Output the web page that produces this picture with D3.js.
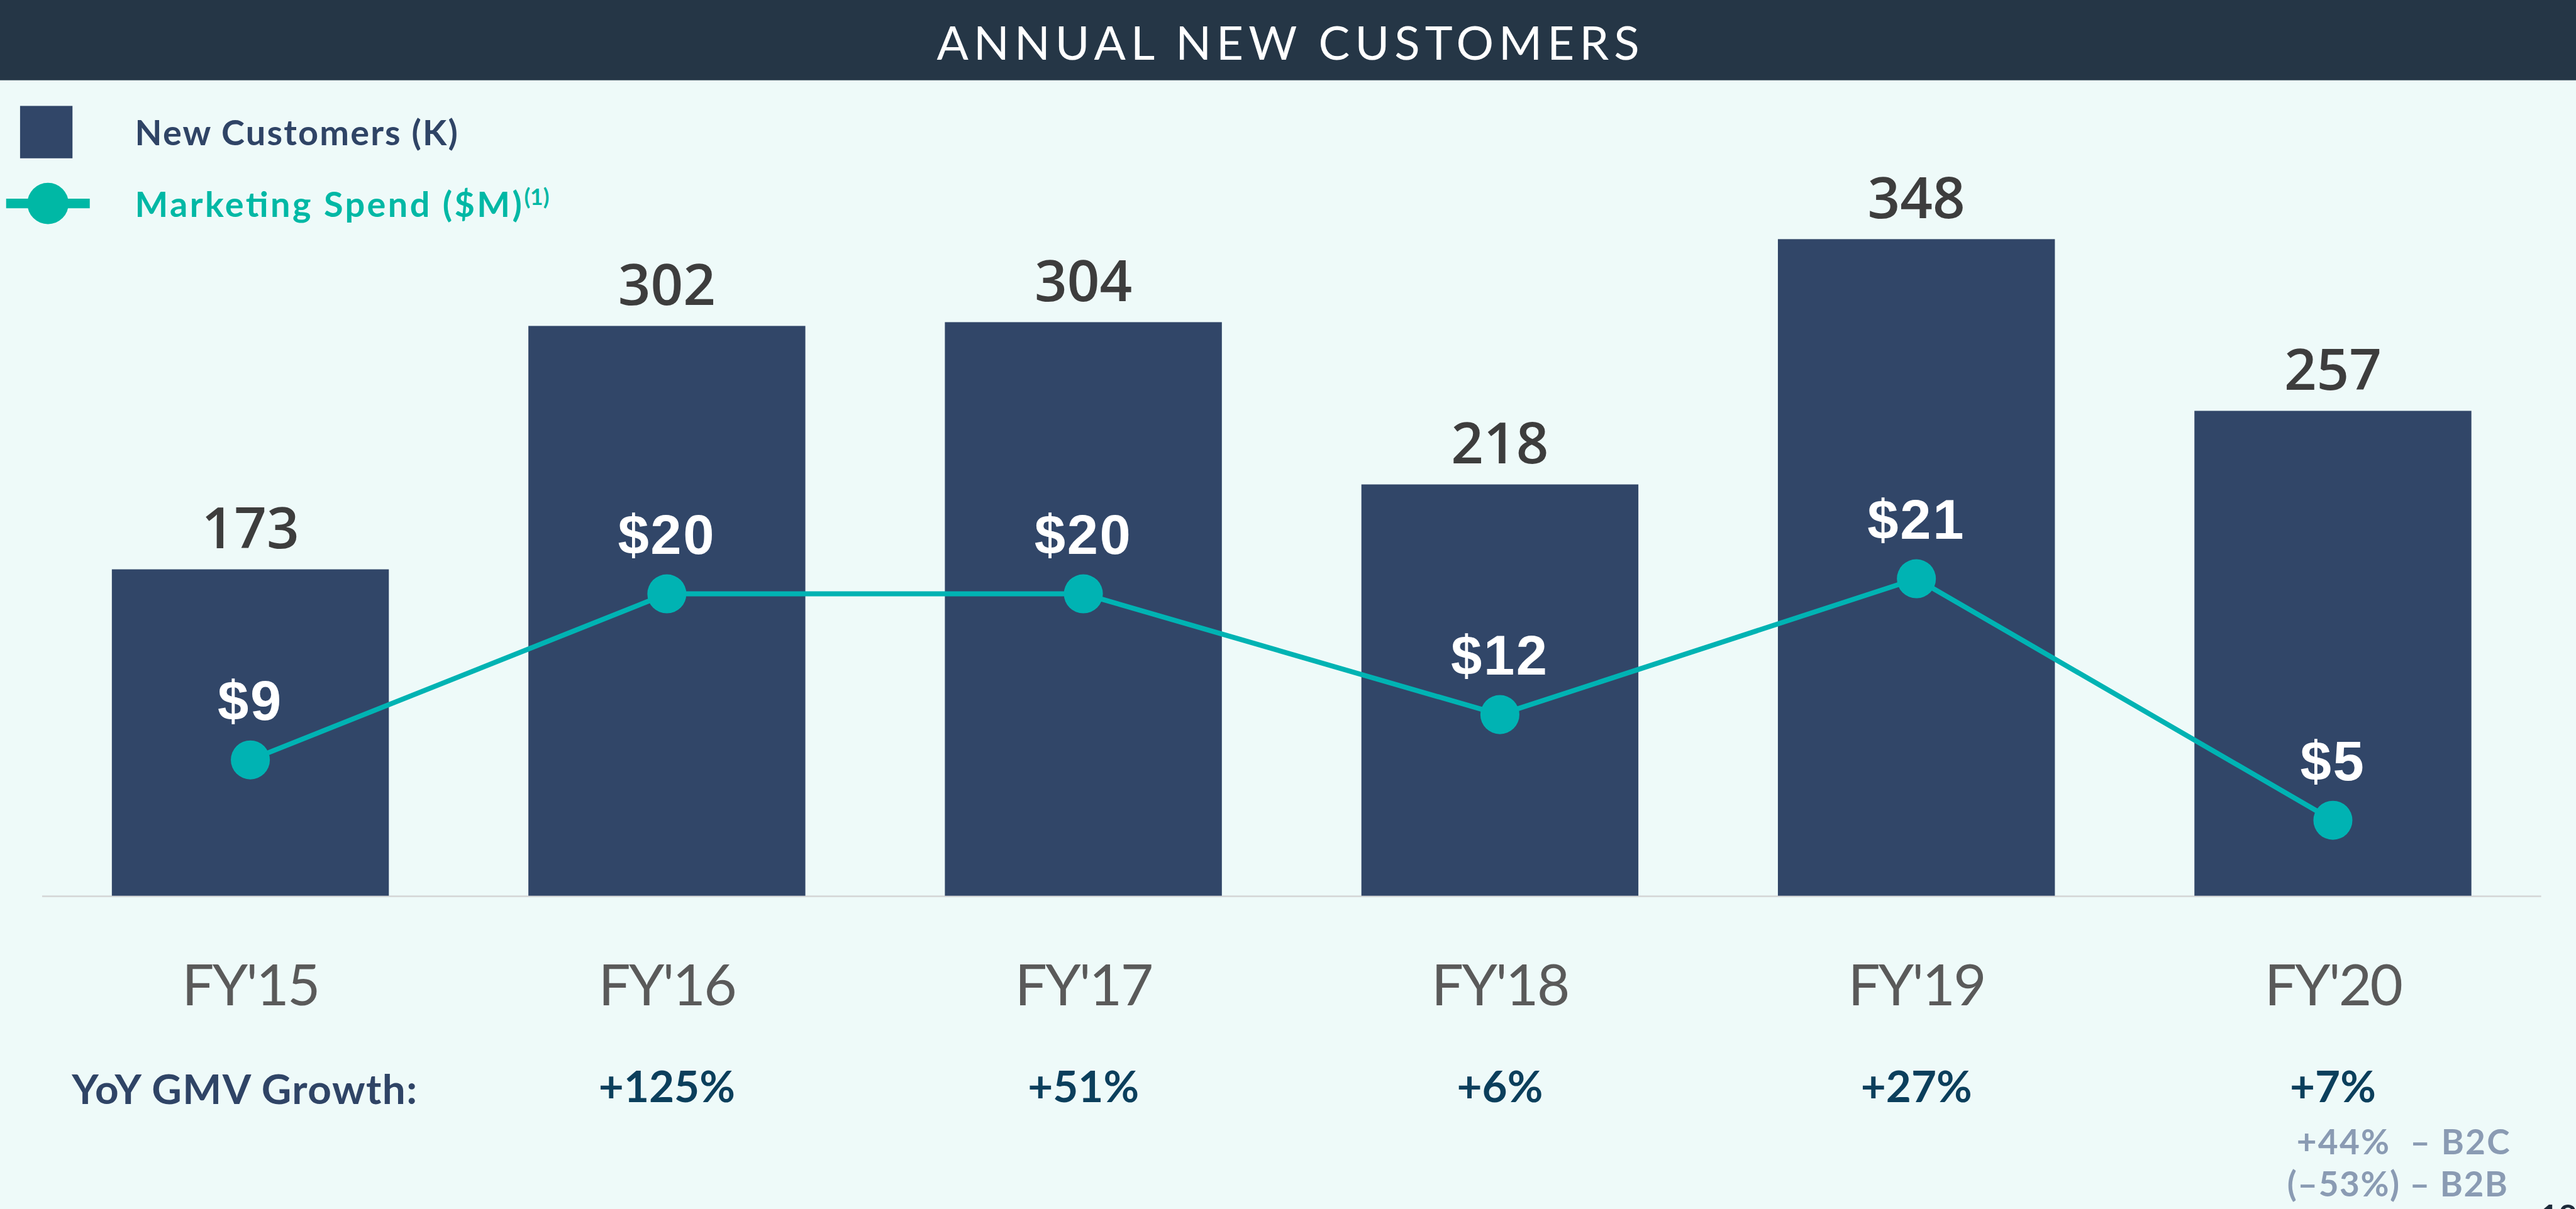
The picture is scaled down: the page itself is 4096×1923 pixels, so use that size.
<!DOCTYPE html>
<html>
<head>
<meta charset="utf-8">
<script src="https://cdn.jsdelivr.net/npm/d3@7"></script>
<style>
  html, body { margin: 0; padding: 0; overflow: hidden; background: #eefaf9; }
  svg { display: block; }
</style>
</head>
<body>
<svg id="chart"></svg>
<script>
// Fiscal years on the x axis
const categories = ["FY'15", "FY'16", "FY'17", "FY'18", "FY'19", "FY'20"];
// New customers, thousands
const newCustomers = [173, 302, 304, 218, 348, 257];
// Marketing spend, $M
const marketingSpend = [9, 20, 20, 12, 21, 5];
// Year-over-year GMV growth shown under each year
const gmvGrowth = [null, "+125%", "+51%", "+6%", "+27%", "+7%"];
// FY'20 GMV split
const gmvSplit = ["+44%  \u2013 B2C", "(\u201353%) \u2013 B2B"];
const titleText = "ANNUAL NEW CUSTOMERS";
const legendLabels = ["New Customers (K)", "Marketing Spend ($M)"];

const W = 4620, H = 2169;
const svg = d3.select("#chart")
  .attr("width", 4096).attr("height", 1923)
  .attr("viewBox", `0 0 ${W} ${H}`);

const C = {
  bg: "#eefaf9", header: "#253646", bar: "#314668", line: "#00b3b3",
  legendTeal: "#00b8a5", navy: "#2f4466", valueGrey: "#3d3d3d",
  axisGrey: "#5a5a5a", gmv: "#0b3f5c", note: "#8a9bb3", base: "#d6d8d8"
};

svg.append("rect").attr("width", W).attr("height", H).attr("fill", C.bg);

// Header band
svg.append("rect").attr("x", 0).attr("y", 0).attr("width", W).attr("height", 144).attr("fill", C.header);
svg.append("text").attr("x", 1680).attr("y", 107)
  .attr("textLength", 1260).attr("lengthAdjust", "spacing")
  .attr("font-family", "Lato, sans-serif").attr("font-size", 84).attr("font-weight", 400)
  .attr("fill", "#ffffff").text(titleText);

// Scales
const x = d3.scaleBand().domain(categories).range([75.5, 4557.5])
  .paddingInner(0.335).paddingOuter(0.1675);
const yBar = d3.scaleLinear().domain([0, 400]).range([1607, 253]);
const yLine = d3.scaleLinear().domain([0, 50]).range([1607, 253]);

// Baseline
svg.append("line").attr("x1", 75.5).attr("x2", 4557.5)
  .attr("y1", yBar(0) + 1).attr("y2", yBar(0) + 1)
  .attr("stroke", C.base).attr("stroke-width", 3);

// Bars
svg.append("g").selectAll("rect").data(newCustomers).join("rect")
  .attr("x", (d, i) => x(categories[i]))
  .attr("y", d => yBar(d))
  .attr("width", x.bandwidth())
  .attr("height", d => yBar(0) - yBar(d))
  .attr("fill", C.bar);

// Bar value labels
svg.append("g").selectAll("text").data(newCustomers).join("text")
  .attr("x", (d, i) => x(categories[i]) + x.bandwidth() / 2)
  .attr("y", d => yBar(d) - 38)
  .attr("text-anchor", "middle")
  .attr("font-family", "'Open Sans', sans-serif").attr("font-size", 102).attr("font-weight", 600)
  .attr("fill", C.valueGrey)
  .text(d => d);

// Marketing spend line
const cx = i => x(categories[i]) + x.bandwidth() / 2;
const line = d3.line().x((d, i) => cx(i)).y(d => yLine(d));
svg.append("path").datum(marketingSpend)
  .attr("d", line).attr("fill", "none")
  .attr("stroke", C.line).attr("stroke-width", 9);
svg.append("g").selectAll("circle").data(marketingSpend).join("circle")
  .attr("cx", (d, i) => cx(i)).attr("cy", d => yLine(d)).attr("r", 35)
  .attr("fill", C.line);
svg.append("g").selectAll("text").data(marketingSpend).join("text")
  .attr("x", (d, i) => cx(i))
  .attr("y", d => yLine(d) - 72)
  .attr("text-anchor", "middle")
  .attr("font-family", "'Liberation Sans', Arial, sans-serif").attr("font-size", 100).attr("font-weight", 700)
  .attr("letter-spacing", 3)
  .attr("fill", "#ffffff")
  .text(d => "$" + d);

// Category labels
svg.append("g").selectAll("text").data(categories).join("text")
  .attr("x", d => x(d) + x.bandwidth() / 2)
  .attr("y", 1803)
  .attr("text-anchor", "middle")
  .attr("font-family", "Lato, sans-serif").attr("font-size", 102).attr("font-weight", 400)
  .attr("letter-spacing", -3)
  .attr("fill", C.axisGrey)
  .text(d => d);

// GMV growth row
svg.append("text").attr("x", 129).attr("y", 1981)
  .attr("textLength", 619).attr("lengthAdjust", "spacing")
  .attr("font-family", "Lato, sans-serif").attr("font-size", 74).attr("font-weight", 700)
  .attr("fill", C.navy).text("YoY GMV Growth:");
svg.append("g").selectAll("text").data(gmvGrowth.map((g, i) => ({ g, c: categories[i] })).filter(d => d.g))
  .join("text")
  .attr("x", d => x(d.c) + x.bandwidth() / 2)
  .attr("y", 1977)
  .attr("text-anchor", "middle")
  .attr("font-family", "Lato, sans-serif").attr("font-size", 78).attr("font-weight", 700)
  .attr("fill", C.gmv)
  .text(d => d.g);

// FY'20 split notes
svg.append("g").selectAll("text").data(gmvSplit).join("text")
  .attr("x", (d, i) => i === 0 ? 4119 : 4102)
  .attr("y", (d, i) => i === 0 ? 2071 : 2147)
  .attr("textLength", (d, i) => i === 0 ? 382 : 395).attr("lengthAdjust", "spacing")
  .attr("xml:space", "preserve")
  .style("white-space", "pre")
  .attr("font-family", "Lato, sans-serif").attr("font-size", 62).attr("font-weight", 700)
  .attr("fill", C.note)
  .text(d => d);

// Page number, running off the bottom edge of the slide
svg.append("text").attr("x", 4555).attr("y", 2203)
  .attr("font-family", "Lato, sans-serif").attr("font-size", 58).attr("font-weight", 700)
  .attr("fill", "#1d2b3a").text("18");

// Legend
const lg = svg.append("g");
lg.append("rect").attr("x", 36).attr("y", 190).attr("width", 94).attr("height", 94).attr("fill", C.bar);
lg.append("text").attr("x", 242).attr("y", 261)
  .attr("textLength", 579).attr("lengthAdjust", "spacing")
  .attr("font-family", "Lato, sans-serif").attr("font-size", 63).attr("font-weight", 700)
  .attr("fill", C.navy).text(legendLabels[0]);
lg.append("line").attr("x1", 11).attr("x2", 161).attr("y1", 365).attr("y2", 365)
  .attr("stroke", C.legendTeal).attr("stroke-width", 17);
lg.append("circle").attr("cx", 86).attr("cy", 365).attr("r", 37).attr("fill", C.legendTeal);
lg.append("text").attr("x", 242).attr("y", 389)
  .attr("textLength", 694).attr("lengthAdjust", "spacing")
  .attr("font-family", "Lato, sans-serif").attr("font-size", 63).attr("font-weight", 700)
  .attr("fill", C.legendTeal).text(legendLabels[1]);
lg.append("text").attr("x", 940).attr("y", 368)
  .attr("font-family", "Lato, sans-serif").attr("font-size", 40).attr("font-weight", 700)
  .attr("fill", C.legendTeal).text("(1)");
</script>
</body>
</html>
